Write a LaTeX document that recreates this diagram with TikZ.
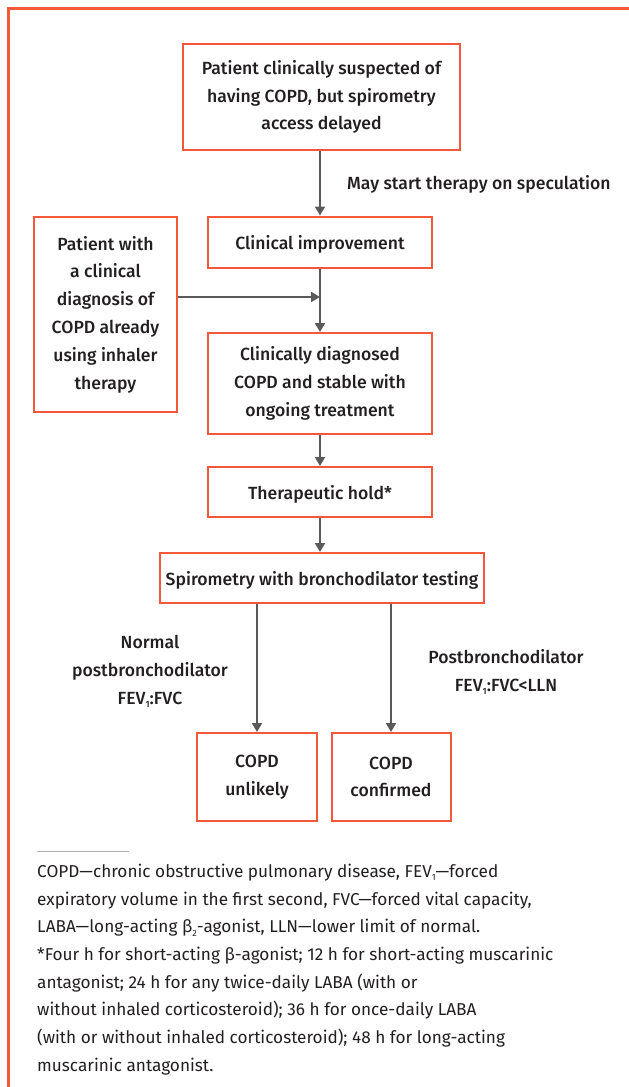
\documentclass[tikz,border=0pt]{standalone}
\usepackage{fontspec}
\setmainfont{Fira Sans}
\IfFontExistsTF{Fira Sans Medium}
  {\newfontfamily\boxfont{Fira Sans Medium}\newcommand{\boxsize}{\fontsize{17.6}{27.8}\selectfont}}
  {\newfontfamily\boxfont{Fira Sans}[UprightFont=*-Bold]\newcommand{\boxsize}{\fontsize{17.3}{27.8}\selectfont}}
\usetikzlibrary{arrows.meta}
\definecolor{frameor}{HTML}{F4583A}
\definecolor{arrgrey}{HTML}{5A5A5A}
\definecolor{txt}{HTML}{231F20}
\definecolor{rulegrey}{HTML}{B0B0B0}
\newcommand{\sbone}{\raisebox{-0.35ex}{\fontsize{9}{9}\selectfont 1}}
\newcommand{\sbtwo}{\raisebox{-0.35ex}{\fontsize{9}{9}\selectfont 2}}
\newcommand{\topstrut}{\rule{0pt}{18.5pt}}
\tikzset{
  box/.style={draw=frameor, line width=2pt, fill=white, align=center, inner sep=0pt,
    text=txt, font=\boxfont\boxsize, execute at begin node=\topstrut},
  conn/.style={draw=arrgrey, line width=2pt, -{Triangle[length=9pt,width=10pt]}},
  lbl/.style={text=txt, align=center, inner sep=0pt, font=\boxfont\boxsize},
}
\begin{document}
\begin{tikzpicture}[x=1pt,y=-1pt]
\useasboundingbox (0,0) rectangle (629,1087);
\draw[frameor, line width=2.5pt] (8.5,1087) -- (8.5,8.5) -- (629,8.5);

\node[box, minimum width=277pt, minimum height=106pt] (b1) at (321.5,97)
  {Patient clinically suspected of\\having COPD, but spirometry\\access delayed};
\node[box, minimum width=224pt, minimum height=51pt] (b2) at (320,242) {Clinical improvement};
\node[box, minimum width=143pt, minimum height=195pt] (lb) at (105.5,314.5)
  {Patient with\\a clinical\\diagnosis of\\COPD already\\using inhaler\\therapy};
\node[box, minimum width=224pt, minimum height=101pt] (b3) at (320,383.5)
  {Clinically diagnosed\\COPD and stable with\\ongoing treatment};
\node[box, minimum width=224pt, minimum height=50pt] (b4) at (320,492) {Therapeutic hold*};
\node[box, minimum width=324pt, minimum height=50pt] (b5) at (322,578) {Spirometry with bronchodilator testing};
\node[box, minimum width=120pt, minimum height=88pt] (b6) at (257,777) {COPD\\unlikely};
\node[box, minimum width=119pt, minimum height=88pt] (b7) at (391,777) {COPD\\confirmed};

\coordinate (j) at (320,297);
\draw[conn] (b1.south -| b2.north) -- (b2.north);
\draw[conn] (lb.east |- j) -- (j);
\draw[conn] (b2.south) -- (b3.north);
\draw[conn] (b3.south) -- (b4.north);
\draw[conn] (b4.south) -- (b5.north -| b4.south);
\draw[conn] (b5.south -| b6.north) -- (b6.north);
\draw[conn] (b5.south -| b7.north) -- (b7.north);

\node[lbl, anchor=west] (l1) at (347,184) {May start therapy on speculation};
\node[lbl] (l2) at (150,671.5) {Normal\\postbronchodilator\\FEV\sbone:FVC};
\node[lbl] (l3) at (506,672) {Postbronchodilator\\FEV\sbone:FVC{<}LLN};

\draw[rulegrey, line width=1pt] (37,851) -- (129,851);
\node[anchor=north west, inner sep=0pt, align=left, text=txt,
  font=\fontsize{17.2}{27.65}\selectfont] (fn) at (37,864)
  {COPD—chronic obstructive pulmonary disease, FEV\sbone—forced\\
   expiratory volume in the first second, FVC—forced vital capacity,\\
   LABA—long-acting β\sbtwo-agonist, LLN—lower limit of normal.\\
   *Four h for short-acting β-agonist; 12 h for short-acting muscarinic\\
   antagonist; 24 h for any twice-daily LABA (with or\\
   without inhaled corticosteroid); 36 h for once-daily LABA\\
   (with or without inhaled corticosteroid); 48 h for long-acting\\
   muscarinic antagonist.};
\end{tikzpicture}
\end{document}
